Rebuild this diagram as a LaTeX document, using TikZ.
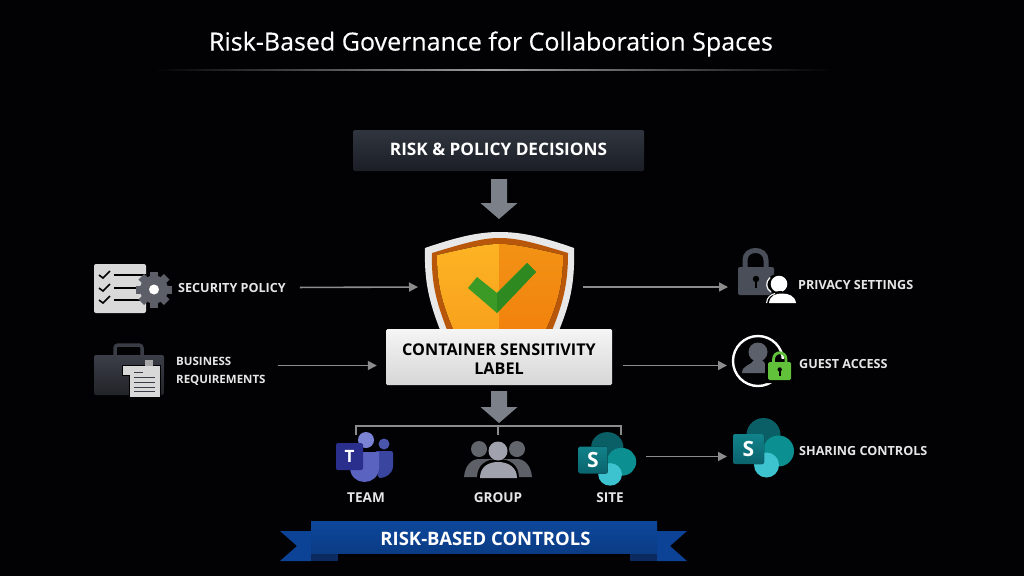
\documentclass[tikz,border=0pt]{standalone}
\usepackage{fontspec}
\setmainfont{Open Sans}
\usetikzlibrary{positioning,calc,arrows.meta}
\definecolor{arrowgray}{HTML}{7C8088}
\definecolor{flowgray}{HTML}{8C8C8C}
\definecolor{textlight}{HTML}{E6E6E6}
\definecolor{iconslate}{HTML}{4A4E59}
\definecolor{gearslate}{HTML}{5C5F68}
\definecolor{ribbonblue}{HTML}{0D479C}
\definecolor{decisiontop}{HTML}{30353F}
\definecolor{decisionbot}{HTML}{1B1E25}
\definecolor{squaretop}{HTML}{11828A}
\definecolor{squarebot}{HTML}{0A636D}
\definecolor{shieldlt}{HTML}{FDB524}
\definecolor{shieldlb}{HTML}{F8A01C}
\definecolor{shieldrt}{HTML}{F29416}
\definecolor{shieldrb}{HTML}{F2800C}
\tikzset{
  blockdown/.pic={\fill[arrowgray] (-8,0) -- (8,0) -- (8,#1) -- (18.5,#1) -- (0,#1+16) -- (-18.5,#1) -- (-8,#1) -- cycle;},
  spicon/.pic={
    \fill[HTML={0A5F66}] (15,-14) circle (17);
    \fill[HTML={0C8F90}] (30,2) circle (15.5);
    \fill[HTML={3DC3CF}] (18,16) circle (12.5);
    \fill[top color=squaretop, bottom color=squarebot, rounded corners=2] (-15.5,-15) rectangle (15.5,15);
    \node[text=white, font=\fontsize{21}{24}\selectfont\bfseries, inner sep=0] {S};
  },
  HTML/.code={\definecolor{tmpfill}{HTML}{#1}\pgfkeysalso{color=tmpfill}},
}
\begin{document}
\begin{tikzpicture}[x=1pt, y=-1pt,
    lbl/.style={text=textlight, inner sep=0, font=\fontsize{12.6}{18}\selectfont\bfseries},
    sublbl/.style={text=textlight, inner sep=0, font=\fontsize{13.6}{16}\selectfont\bfseries},
    hitbox/.style={inner sep=0, outer sep=0},
    flow/.style={draw=flowgray, line width=1.6pt, -{Triangle[length=9pt,width=9pt]}},
    bracket/.style={draw=flowgray, line width=1.5pt},
    fin/.style={HTML={0D4396}}]
  \useasboundingbox (0,0) rectangle (1024,576);
  \fill[HTML={020204}] (0,0) rectangle (1024,576);

  \node[text=white, inner sep=0, font=\fontsize{25}{30}\selectfont\addfontfeature{FakeBold=0.25}] (title) at (491,44) {Risk-Based Governance for Collaboration Spaces};
  \fill[left color=black, right color=black, middle color=gray!75] (150,69.5) rectangle (835,70.7);

  \node[minimum width=291pt, minimum height=41pt, inner sep=0, rounded corners=1.5pt, top color=decisiontop, bottom color=decisionbot,
    text=white, font=\fontsize{17.2}{20}\selectfont\bfseries] (decisions) at (498.5,150.5) {\raisebox{0pt}[12.5pt][2.5pt]{RISK \& POLICY DECISIONS}};
  \pic at (499,179) {blockdown=24};

  \fill[HTML={E8E8E8}] (425,248) .. controls (460,236) and (480,232) .. (499.5,232) .. controls (520,232) and (540,236) .. (574,248)
    .. controls (575,285) and (570,305) .. (555,340) -- (444,340) .. controls (430,305) and (424,285) .. (425,248) -- cycle;
  \fill[HTML={B8560A}] (432,253) .. controls (465,243) and (482,238) .. (499.5,238) .. controls (518,238) and (535,243) .. (568,253)
    .. controls (568,285) and (563,305) .. (548,340) -- (451,340) .. controls (437,305) and (431,285) .. (432,253) -- cycle;
  \begin{scope}
    \clip (437,255) .. controls (468,248) and (484,244) .. (499.5,244) .. controls (516,244) and (532,248) .. (563,255)
      .. controls (563,285) and (558,305) .. (541,340) -- (458,340) .. controls (442,305) and (437,285) .. (437,255) -- cycle;
    \fill[top color=shieldlt, bottom color=shieldlb] (430,235) rectangle (499,340);
    \fill[top color=shieldrt, bottom color=shieldrb] (499,235) rectangle (570,340);
  \end{scope}
  \fill[HTML={3A9A25}] (468,288) -- (477,277) -- (497,293) -- (527,263) -- (536,272) -- (497,313) -- cycle;
  \fill[HTML={2E8A20}] (497,293) -- (527,263) -- (536,272) -- (497,313) -- cycle;
  \node[hitbox, minimum width=149pt, minimum height=60pt] (shield) at (499.5,287) {};

  \node[minimum width=226pt, minimum height=56pt, inner sep=0, rounded corners=1.5pt, top color=white!96!black, bottom color=white!84!black,
    text=black, align=center, font=\fontsize{16.2}{19}\selectfont\bfseries] (sens) at (499,357) {\rule{0pt}{16pt}CONTAINER SENSITIVITY\\LABEL};
  \coordinate (sensmid) at (499,365.5);
  \pic at (499,391) {blockdown=16};

  \fill[HTML={D9D9D9}, rounded corners=2] (94,264) rectangle (146,313);
  \foreach \rowy in {275,288,300} {
    \draw[black, line width=1.6pt] (99,\rowy) -- (103,\rowy+3) -- (110,\rowy-4);
    \draw[black, line width=1.3pt] (114,\rowy) -- (146,\rowy);
  }
  \fill[gearslate] (154,289.5) circle (14);
  \foreach \ang in {0,45,...,315} \fill[gearslate, rotate around={\ang:(154,289.5)}] (150,271.5) rectangle (158,281);
  \fill[white] (154,289.5) circle (5);
  \node[lbl, anchor=west] (secpol) at (178,287.5) {SECURITY POLICY};

  \fill[top color=iconslate!80!black, bottom color=iconslate!45!black, rounded corners=2] (94,355) rectangle (164,395);
  \draw[HTML={3A3D46}, line width=3.5pt, rounded corners=3] (115,355) -- (115,345) -- (142,345) -- (142,355);
  \fill[HTML={D8D8D8}, draw=black, line width=1pt] (122,365) -- (160,365) -- (160,397) -- (129,397) -- (129,375) -- (122,375) -- cycle;
  \fill[HTML={A8A8A8}] (145,360) rectangle (153,366);
  \foreach \rowy in {377,382,387,391} \draw[HTML={3A3D46}, line width=1pt] (134,\rowy) -- (155,\rowy);
  \draw[HTML={3A3D46}, line width=1pt] (134,372) -- (143,372);
  \node[lbl, anchor=west, align=left, font=\fontsize{11.5}{18}\selectfont\bfseries] (bizreq) at (176,371) {BUSINESS\\REQUIREMENTS};

  \draw[flow, shorten <=14pt, shorten >=7pt] (secpol.east) -- (shield.west);
  \draw[flow, shorten <=12pt, shorten >=9pt] (sensmid -| bizreq.east) -- (sensmid -| sens.west);

  \draw[iconslate, line width=5pt] (745,268) -- (745,260) .. controls (745,247.3) and (766,247.3) .. (766,260) -- (766,268);
  \fill[iconslate, rounded corners=2] (738,267) rectangle (774,295);
  \fill[black] (756,279) circle (3.2);
  \fill[black] (754.8,280) rectangle (757.2,288);
  \fill[black] (777,284) circle (10);
  \draw[white, line width=1.2pt] (770,277.5) .. controls (765,282) and (766,289) .. (771,292);
  \fill[white] (779,284) circle (8.3);
  \fill[black] (765,305) .. controls (766,293) and (775,291) .. (782,291) -- (782,305) -- cycle;
  \draw[white, line width=1.1pt] (766.5,303) .. controls (767,297) and (771,294.5) .. (775,293.5);
  \fill[white] (769,303) .. controls (770,295) and (776,293.5) .. (782,293.5) .. controls (789,293.5) and (795,296) .. (796,303) -- cycle;
  \node[hitbox, minimum width=60pt, minimum height=56pt] (lockicon) at (767,276) {};
  \node[lbl, anchor=west] (privacy) at (798,285) {PRIVACY SETTINGS};

  \draw[white, line width=2.4pt] (758,361) circle (25);
  \fill[iconslate!90!white] (758,352) circle (9.5);
  \fill[iconslate!90!white] (742,373) .. controls (742,365) and (752,365) .. (754,360) -- (762,360) .. controls (764,365) and (774,365) .. (774,373) -- cycle;
  \fill[black, rounded corners=2] (765,359) rectangle (794,383);
  \draw[HTML={62C13A}, line width=2.8pt] (773.5,363) -- (773.5,359.5) .. controls (773.5,350.5) and (786,350.5) .. (786,359.5) -- (786,363);
  \fill[HTML={62C13A}, rounded corners=1.5] (768,362) rectangle (791,380);
  \fill[black] (779.7,369.5) circle (2.2);
  \fill[black] (778.7,370) rectangle (780.7,376);
  \node[hitbox, minimum width=52pt, minimum height=52pt] (guesticon) at (758,365.5) {};
  \node[lbl, anchor=west] (guest) at (799,364) {GUEST ACCESS};

  \pic at (748.5,449) {spicon};
  \node[hitbox, minimum width=31pt, minimum height=30pt] (shareicon) at (748.5,456.5) {};
  \node[lbl, anchor=west] (sharing) at (799,451) {SHARING CONTROLS};

  \draw[flow, shorten <=9pt, shorten >=9pt] (shield.east) -- (shield.east -| lockicon.west);
  \draw[flow, shorten <=11pt, shorten >=5pt] (sensmid -| sens.east) -- (sensmid -| guesticon.west);

  \fill[HTML={7B83D4}] (366,440) circle (8);
  \fill[HTML={4A55AC}] (384,444) circle (5.5);
  \fill[HTML={3A45A0}, rounded corners=2] (375,451) -- (393,451) -- (393,464) .. controls (393,474) and (385,478) .. (378,478) -- cycle;
  \fill[HTML={5B63C0}] (350,452) -- (379,452) -- (379,467) .. controls (379,487) and (350,487) .. (350,467) -- cycle;
  \fill[HTML={2A2F8E}, rounded corners=1.5] (336,443) rectangle (363,470);
  \node[text=white, inner sep=0, font=\fontsize{17}{20}\selectfont\bfseries] (teamt) at (349.5,456.5) {T};
  \node[sublbl] (team) at (366,498) {TEAM};

  \fill[HTML={63656D}] (479,449) circle (8);
  \fill[HTML={63656D}] (517,449) circle (8);
  \fill[HTML={5E6068}] (464,477) .. controls (465,465) and (472,459) .. (479,459) -- (517,459) .. controls (524,459) and (531,465) .. (532,477) -- cycle;
  \fill[black] (477,478) .. controls (477,465) and (486,459) .. (498,459) .. controls (510,459) and (519,465) .. (519,478) -- cycle;
  \fill[HTML={A0A2AD}] (498,451) circle (9.5);
  \fill[HTML={A0A2AD}] (480,478) .. controls (480,467) and (488,462) .. (498,462) .. controls (508,462) and (517,467) .. (517,478) -- cycle;
  \node[sublbl] (group) at (498,498) {GROUP};

  \pic[yscale=.9, xscale=.95] at (593,460) {spicon};
  \node[hitbox, minimum width=60pt, minimum height=30pt] (siteicon) at (608,456.5) {};
  \node[sublbl] (site) at (610,498) {SITE};
  \draw[flow, shorten <=8pt, shorten >=6pt] (siteicon.east) -- (shareicon.west);

  \coordinate (hub) at (498,426);
  \coordinate (teamdrop) at (356,435);
  \coordinate (groupdrop) at (498,435);
  \coordinate (sitedrop) at (621,435);
  \draw[bracket] (teamdrop) |- (hub) -| (sitedrop);
  \draw[bracket] (hub) -- (groupdrop);

  \fill[fin] (280,531) -- (312,531) -- (312,561) -- (280,561) -- (297,546) -- cycle;
  \fill[fin] (687,531) -- (656,531) -- (656,561) -- (687,561) -- (670,546) -- cycle;
  \fill[HTML={0A2A60}] (311,553) -- (338,553) -- (338,561) -- (311,561) -- cycle;
  \fill[HTML={0A2A60}] (657,553) -- (630,553) -- (630,561) -- (657,561) -- cycle;
  \node[minimum width=346pt, minimum height=32pt, inner sep=0, top color=ribbonblue, bottom color=ribbonblue!85!black,
    text=white, font=\fontsize{18.5}{22}\selectfont\bfseries] (ribbon) at (484,537) {\hspace{3pt}\raisebox{0pt}[16.5pt][0pt]{RISK-BASED CONTROLS}};
\end{tikzpicture}
\end{document}
